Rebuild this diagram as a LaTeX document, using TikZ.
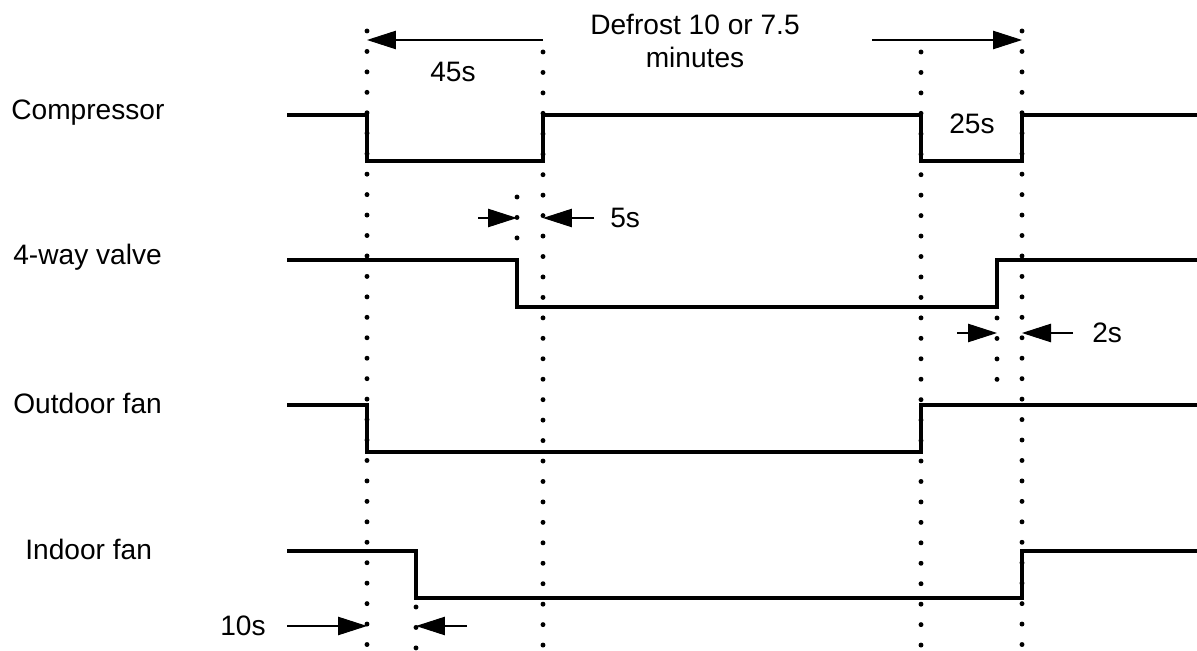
\documentclass[tikz,border=0pt]{standalone}
\usepackage{fontspec}
\setmainfont{Liberation Sans}
\usetikzlibrary{arrows.meta}

\begin{document}
\begin{tikzpicture}[x=0.02cm,y=-0.02cm,
		font=\fontsize{16}{18.5}\selectfont,
		sig/.style={line width=2.2pt, line join=miter},
		dotline/.style={line width=2.8pt, line cap=round, dash pattern=on 0pt off 11.64pt},
		timearrow/.style={-{Triangle[length=16.5pt,width=10.5pt]}, line width=0.6pt},
		lbl/.style={anchor=west, inner sep=0pt}]
		\useasboundingbox (0,0) rectangle (1197,651);

		\node[lbl] (comp) at (11,113) {Compressor};
		\node[lbl] (valve) at (13,257) {4-way valve};
		\node[lbl] (outfan) at (13,403) {Outdoor fan};
		\node[lbl] (infan) at (25,549) {Indoor fan};

		\draw[dotline] (367,31) -- (367,648);
		\draw[dotline] (543,52) -- (543,648);
		\draw[dotline] (921,52) -- (921,648);
		\draw[dotline] (1022,31) -- (1022,648);
		\draw[dotline] (517,197) -- (517,240);
		\draw[dotline] (997,318) -- (997,382);
		\draw[dotline] (416,607) -- (416,648);

		\draw[sig] (287,115) -- (367,115) -- (367,161) -- (543,161) -- (543,115) -- (921,115) -- (921,161) -- (1022,161) -- (1022,115) -- (1197,115);
		\draw[sig] (287,260) -- (517,260) -- (517,307) -- (997,307) -- (997,260) -- (1197,260);
		\draw[sig] (287,405) -- (367,405) -- (367,452) -- (921,452) -- (921,405) -- (1197,405);
		\draw[sig] (287,551) -- (416,551) -- (416,598) -- (1022,598) -- (1022,551) -- (1197,551);

		\coordinate (defL) at (543,40);
		\coordinate (defLtip) at (367,40);
		\coordinate (defR) at (872,40);
		\coordinate (defRtip) at (1022,40);
		\draw[timearrow] (defL) -- (defLtip);
		\draw[timearrow] (defR) -- (defRtip);
		\node[align=center, inner sep=0pt] (defrost) at (695,41) {Defrost 10 or 7.5\\minutes};
		\node (t45) at (453,72) {45s};
		\node (t25) at (972,124) {25s};

		\coordinate (vA) at (478,218);
		\coordinate (vAtip) at (517,218);
		\coordinate (vB) at (594,218);
		\coordinate (vBtip) at (543,218);
		\draw[timearrow] (vA) -- (vAtip);
		\draw[timearrow] (vB) -- (vBtip);
		\node[anchor=west, inner sep=0pt] (t5) at (610,218) {5s};

		\coordinate (wA) at (957,333);
		\coordinate (wAtip) at (997,333);
		\coordinate (wB) at (1073,333);
		\coordinate (wBtip) at (1022,333);
		\draw[timearrow] (wA) -- (wAtip);
		\draw[timearrow] (wB) -- (wBtip);
		\node[anchor=west, inner sep=0pt] (t2) at (1092,333) {2s};

		\coordinate (fA) at (287,626);
		\coordinate (fAtip) at (367,626);
		\coordinate (fB) at (467,626);
		\coordinate (fBtip) at (416,626);
		\draw[timearrow] (fA) -- (fAtip);
		\draw[timearrow] (fB) -- (fBtip);
		\node (t10) at (243,626) {10s};
	\end{tikzpicture}
\end{document}
